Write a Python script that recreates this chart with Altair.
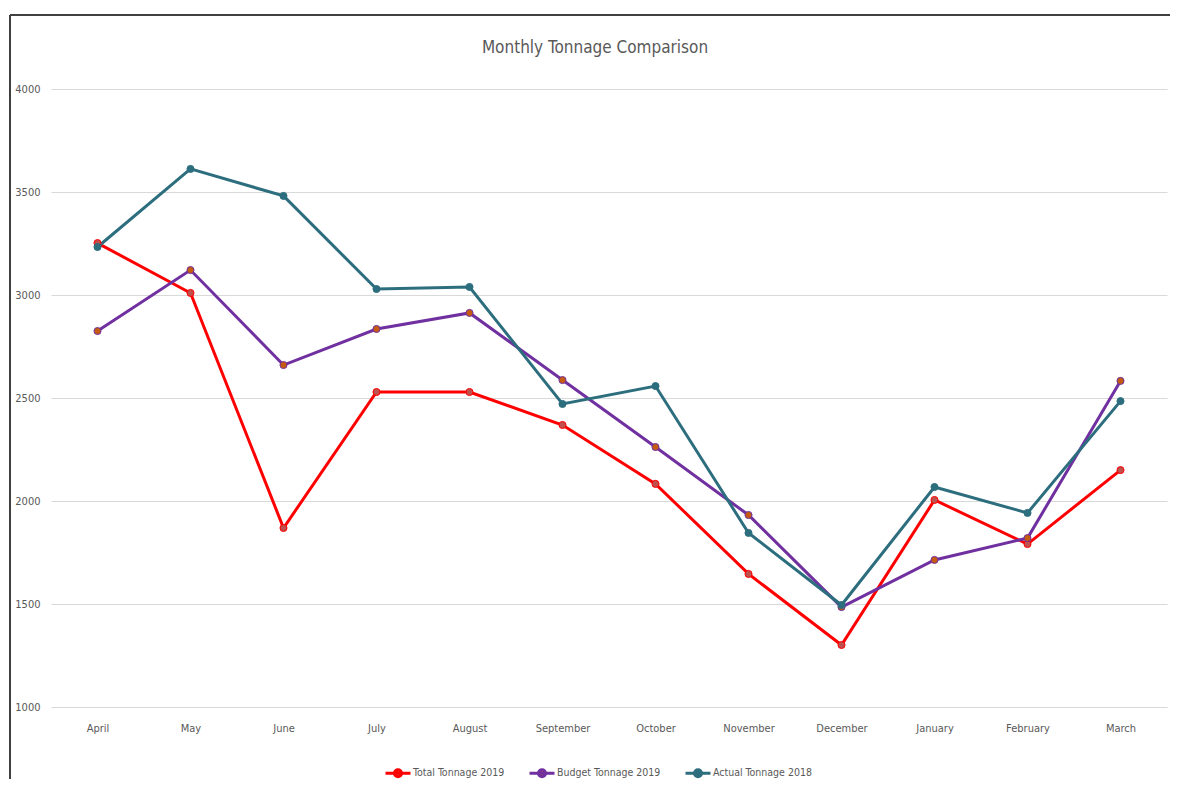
import altair as alt
import pandas as pd

months = ["April", "May", "June", "July", "August", "September", "October",
          "November", "December", "January", "February", "March"]
series_names = ["Total Tonnage 2019", "Budget Tonnage 2019", "Actual Tonnage 2018"]
total_2019 = [3252, 3010, 1869, 2529, 2529, 2369, 2083, 1646, 1301, 2005, 1791, 2150]
budget_2019 = [2825, 3121, 2660, 2835, 2913, 2587, 2262, 1932, 1485, 1714, 1820, 2583]
actual_2018 = [3233, 3612, 3481, 3029, 3039, 2471, 2558, 1845, 1495, 2068, 1942, 2485]
y_ticks = [1000, 1500, 2000, 2500, 3000, 3500, 4000]
chart_title = "Monthly Tonnage Comparison"

line_colors = ["#FF0000", "#7030A0", "#2D6E7E"]
marker_fills = ["#C0504D", "#C55A11", "#2D6E7E"]

rows = []
for name, vals in zip(series_names, [total_2019, budget_2019, actual_2018]):
    for m, v in zip(months, vals):
        rows.append({"Month": m, "Series": name, "Tonnage": v})
df = pd.DataFrame(rows)

FONT = "Liberation Sans Narrow, Arial Narrow, DejaVu Sans Condensed, sans-serif"

x_enc = alt.X("Month:N", sort=months,
              scale=alt.Scale(type="point", padding=0.5),
              axis=alt.Axis(title=None, labelAngle=0, ticks=False, domain=False,
                            grid=False, labelPadding=15, labelFontSize=11,
                            labelColor="#595959", labelFont=FONT))
y_enc = alt.Y("Tonnage:Q",
              scale=alt.Scale(domain=[1000, 4000], nice=False, zero=False),
              axis=alt.Axis(title=None, values=y_ticks, format="d", ticks=False,
                            domain=False, grid=True, gridColor="#D9D9D9", gridWidth=1,
                            labelPadding=11, labelFontSize=11,
                            labelColor="#595959", labelFont=FONT))

legend = alt.Legend(
    title=None, orient="none", legendX=333, legendY=670,
    direction="horizontal", columnPadding=18,
    symbolType="M-1,0L1,0M-0.28,0A0.28,0.28,0,1,1,0.28,0A0.28,0.28,0,1,1,-0.28,0Z",
    symbolSize=625, symbolStrokeWidth=3,
    labelFontSize=10.5, labelColor="#595959", labelFont=FONT, labelOffset=1)

stroke_enc = alt.Stroke("Series:N", sort=series_names,
                        scale=alt.Scale(domain=series_names, range=line_colors),
                        legend=legend)
fill_enc = alt.Fill("Series:N", sort=series_names,
                    scale=alt.Scale(domain=series_names, range=marker_fills),
                    legend=legend)

base = alt.Chart(df)
lines = base.mark_line(strokeWidth=3).encode(x=x_enc, y=y_enc, stroke=stroke_enc)
points = base.mark_point(filled=False, size=50, strokeWidth=1, opacity=1).encode(
    x=x_enc, y=y_enc, stroke=stroke_enc, fill=fill_enc)

frame_data = alt.Data(values=[{"title": chart_title}])
top_border = alt.Chart(frame_data).mark_rule(color="#404040", strokeWidth=2).encode(
    x=alt.value(-41), x2=alt.value(1130), y=alt.value(-74))
left_border = alt.Chart(frame_data).mark_rule(color="#404040", strokeWidth=2).encode(
    x=alt.value(-41), y=alt.value(-74), y2=alt.value(720))
title_text = alt.Chart(frame_data).mark_text(
    fontSize=17, font=FONT, color="#595959", align="center", baseline="middle"
).encode(text="title:N", x=alt.value(544), y=alt.value(-41))

chart = alt.layer(top_border, left_border, title_text, lines, points).properties(
    width=1116, height=618,
    background="white",
    autosize=alt.AutoSizeParams(type="none"),
    padding={"left": 43, "top": 81, "right": 3, "bottom": 72},
).configure_view(strokeWidth=0, stroke="transparent")

chart.save("out.html", embed_options={"renderer": "svg", "actions": False})
